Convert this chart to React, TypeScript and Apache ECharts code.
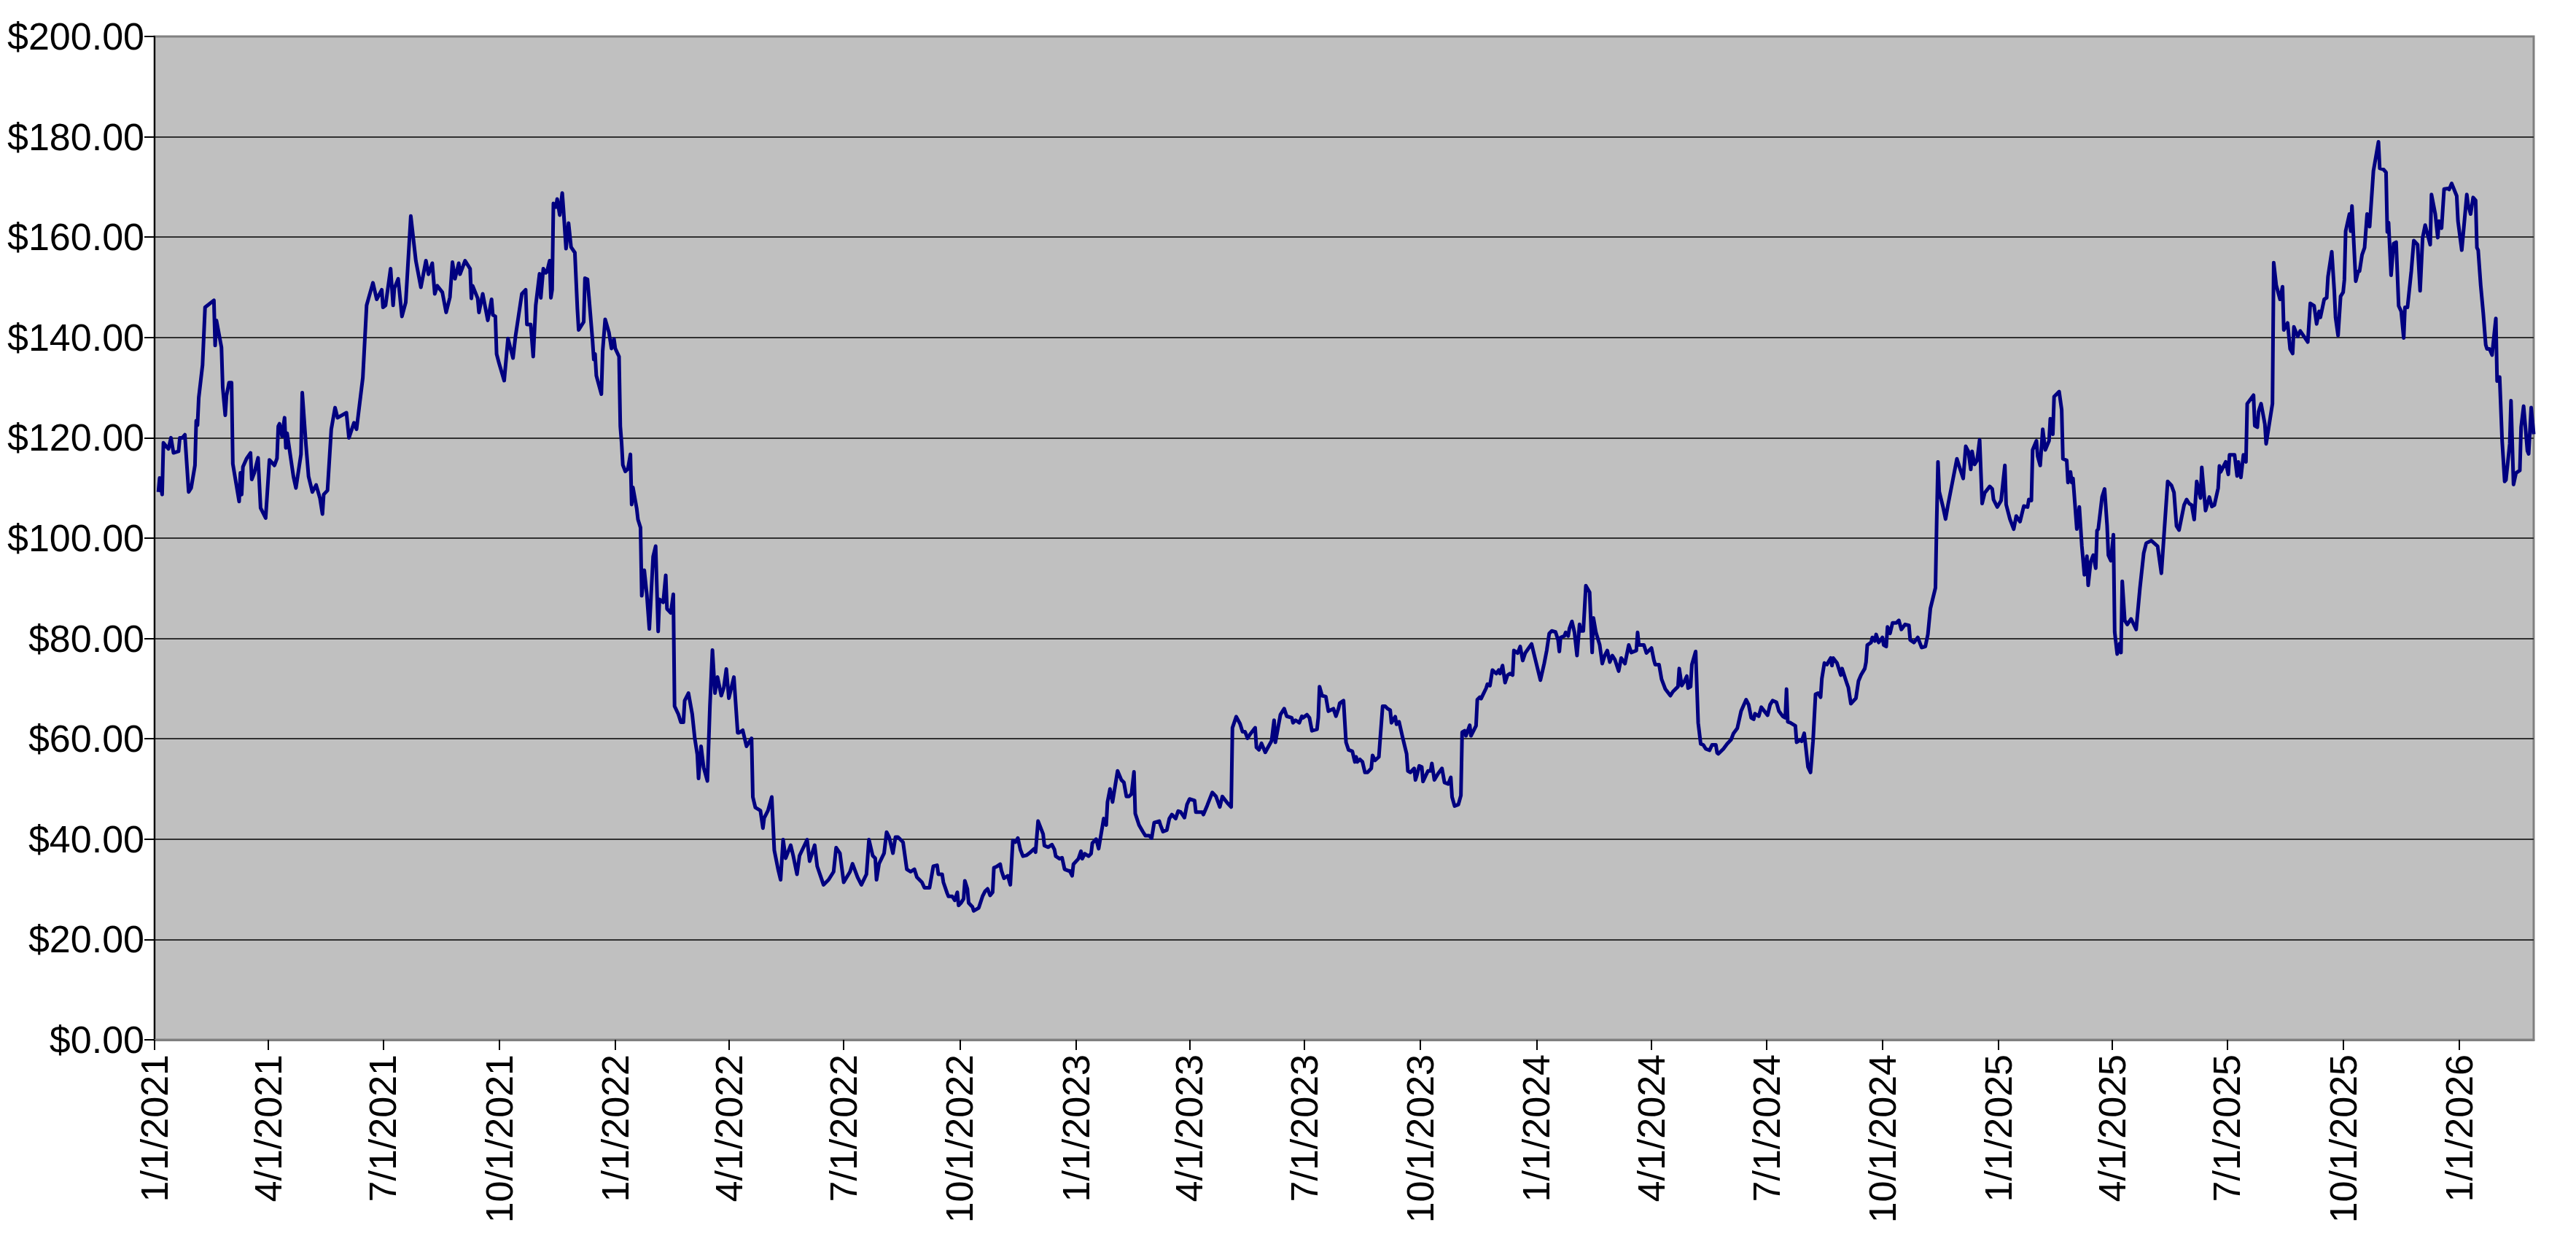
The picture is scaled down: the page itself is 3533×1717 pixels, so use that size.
import React, { useEffect, useRef } from "react";
import * as echarts from "echarts";

// Each point: [days since 1/1/2021, closing price in $]
const prices2021: [number, number][] = [
  [3,109.2],[4,112],[6,108.7],[7,119],[11,117.8],[13,120],[15,117],[19,117.3],[20,120],[22,120],[24,120.6],[27,109.2],[29,110],[32,114.5],[33,123.4],[34,122.5],[35,128],[38,134.5],[40,146],[42,146.4],[47,147.4],[48,138.4],[49,143.4],[53,138],[54,130],[56,124.5],[57,128.4],[59,131],[61,131],[62,114.8],[67,107.3],[68,113],[69,108.7],[70,114.2],[73,115.9],[76,117],[77,111.7],[79,113],[82,116],[84,106],[88,104],[91,115.6],[95,114.5],[97,115.9],[98,122.3],[99,122.8],[101,120.3],[103,124],[104,118],[105,120.9],[110,112.3],[112,110],[116,116.7],[117,129],[120,118.4],[122,112.3],[125,109.2],[128,110.6],[131,108],[133,104.8],[134,108.7],[137,109.5],[140,121.7],[143,126],[145,124],[152,125],[154,120],[158,123],[160,121.7],[165,132],[168,146.4],[173,150.9],[176,147.6],[180,149.5],[181,146],[183,146.4],[187,153.7],[189,146.4],[190,149.8],[193,151.7],[196,144.2],[199,147],[203,164.2],[207,155.3],[211,150],[215,155.3],[217,152.6],[220,154.8],[222,148.7],[224,150.3],[228,149],[231,145],[234,148],[236,155],[238,151.7],[241,154.8],[242,152.6],[246,155.3],[250,153.7],[251,147.8],[252,150.3],[256,147.8],[257,145],[260,148.7],[264,143.4],[267,147.6],[268,144.5],[270,144.2],[271,136.7],[273,134.8],[277,131.4],[280,139.8],[284,135.9],[286,140.3],[291,148.7],[294,149.5],[295,142.6],[298,142.6],[300,136.2],[302,146.4],[305,152.7],[306,147.9],[308,153.7],[310,152.9],[311,153.2],[313,155.3],[314,147.9],[315,149.5],[316,166.7],[318,166],[319,167.6],[321,164.4],[323,168.8],[324,165.4],[326,157.7],[328,162.8],[330,158],[333,156.9],[335,145.7],[336,141.5],[340,143.1],[341,151.8],[343,151.6],[347,139.4],[348,135.6],[349,136.7],[350,132.4],[354,128.7],[355,137.2],[357,143.6],[360,141],[362,137.8],[364,139.7],
];

const prices2022: [number, number][] = [
  [365,137.8],[368,136.2],[369,122.3],[370,119.1],[371,114.6],[373,113.3],[375,113.8],[377,116.7],[378,106.7],[379,110.1],[382,105.9],[383,103.7],[385,102.1],[386,88.5],[388,93.6],[390,88.8],[392,81.9],[395,96.3],[397,98.4],[399,81.4],[400,87.8],[403,87.2],[405,92.6],[406,85.9],[409,85.1],[411,88.8],[412,66.5],[415,64.9],[417,63.3],[419,63.3],[420,67.6],[423,69.1],[426,64.9],[428,60.1],[430,56.9],[431,52.1],[433,58.5],[435,54.3],[438,51.6],[440,66.5],[442,77.7],[444,69.1],[446,72.3],[449,68.6],[451,70.2],[453,73.9],[455,68.1],[459,72.3],[462,61.2],[463,61.2],[466,61.7],[469,58.5],[473,60.1],[474,48.4],[476,46.3],[480,45.7],[482,42.2],[483,44.2],[486,45.7],[489,48.4],[491,37.8],[494,34],[496,31.9],[498,39.9],[500,36.2],[504,38.8],[506,36.7],[509,33],[511,36.7],[517,39.9],[519,35.6],[523,38.8],[525,34.6],[530,30.9],[534,31.9],[538,33.5],[540,38.3],[543,37.2],[546,31.4],[551,33.5],[553,35.1],[557,32.4],[560,30.9],[564,33],[566,39.9],[569,36.7],[571,36.2],[572,31.9],[574,35.1],[578,37.2],[580,41.4],[582,40.4],[585,37.2],[587,40.4],[589,40.4],[593,39.4],[596,34],[599,33.5],[602,34],[604,32.4],[608,31.4],[610,30.3],[614,30.3],[617,34.6],[620,34.8],[621,33],[624,33],[625,31.4],[628,29.2],[629,28.6],[632,28.6],[634,27.8],[636,29.4],[637,26.8],[639,27.3],[641,28.1],[642,31.7],[644,30.1],[645,27.3],[648,26.5],[649,25.7],[653,26.3],[656,28.6],[658,29.6],[660,30.1],[662,28.8],[664,29.4],[665,34.3],[667,34.5],[670,35],[671,33.7],[673,32.2],[676,32.7],[678,30.9],[680,39.7],[682,39.4],[684,40.2],[686,37.9],[688,36.6],[691,36.8],[694,37.4],[697,38.1],[698,37.4],[700,43.6],[704,41],[705,38.7],[708,38.4],[711,38.9],[713,37.9],[714,36.6],[717,36.1],[719,36.3],[721,34],[724,33.7],[725,33.7],[727,32.7],[728,35],
];

const prices2023: [number, number][] = [
  [732,36.1],[734,37.6],[735,36.1],[737,37.1],[740,36.6],[742,37.1],[743,39.2],[746,40],[748,38.1],[752,44.1],[754,42.8],[755,47.4],[757,50],[759,47.4],[763,53.6],[766,51.8],[768,51.3],[770,48.5],[772,48.5],[774,49],[776,53.4],[777,45.1],[780,42.8],[783,41.5],[785,40.7],[788,40.7],[790,40.2],[792,43.3],[796,43.6],[797,42.8],[799,41.5],[802,41.8],[804,44.1],[806,44.9],[809,44.1],[811,45.6],[813,45.4],[816,44.3],[818,46.9],[820,48],[824,47.7],[825,45.4],[830,45.4],[831,44.9],[834,46.7],[838,49.3],[841,48.5],[844,46.4],[846,48.5],[850,47.2],[853,46.4],[854,62.2],[857,64.4],[860,63],[862,61.4],[864,61.4],[866,60.1],[868,60.9],[872,62.2],[873,58.3],[875,57.8],[877,59.1],[880,57.3],[885,59.6],[887,63.7],[888,59.3],[892,64.8],[895,66],[897,64.5],[901,64.2],[902,63.2],[904,63.7],[907,63.2],[909,64.5],[910,64.2],[913,64.8],[915,64.2],[917,61.6],[921,61.9],[922,64.2],[923,70.4],[925,68.6],[928,68.4],[930,65.5],[934,66],[936,64.5],[938,66],[939,67.1],[942,67.6],[944,59.3],[946,57.8],[949,57.5],[951,55.4],[952,56.4],[953,55.4],[955,55.9],[957,55.4],[959,53.3],[961,53.3],[964,54.1],[965,56.7],[967,55.7],[970,56.4],[971,59.8],[973,66.5],[975,66.5],[977,66],[979,65.7],[980,63.2],[983,64.4],[984,62.9],[986,63.4],[989,60.1],[992,57],[993,53.6],[995,53.3],[998,54.1],[999,51.8],[1000,52.6],[1002,54.6],[1004,54.4],[1005,51.5],[1007,52.6],[1009,53.6],[1011,53.6],[1012,55.1],[1014,51.8],[1017,53.1],[1020,54.1],[1022,51.3],[1025,51],[1027,52.3],[1028,48.4],[1030,46.6],[1033,46.9],[1035,48.7],[1036,61.3],[1038,61.6],[1039,60.6],[1042,62.7],[1043,60.6],[1047,62.6],[1048,67.8],[1050,68.3],[1051,68],[1055,70.1],[1056,70.9],[1058,70.6],[1060,73.7],[1063,73],[1065,73.7],[1066,73],[1068,74.6],[1070,71.2],[1072,72.7],[1074,73],[1076,72.7],[1077,77.6],[1080,77.1],[1082,78.4],[1084,75.6],[1086,77.1],[1091,78.9],[1094,75.8],
];

const prices2024: [number, number][] = [
  [1098,71.7],[1101,75],[1103,77.6],[1105,81],[1107,81.5],[1110,81.3],[1112,79.7],[1113,77.4],[1114,80.2],[1117,80.5],[1118,81.2],[1120,80.5],[1121,82],[1123,83.4],[1125,81.2],[1127,76.6],[1129,82.8],[1130,81.5],[1132,81.5],[1134,90.5],[1137,89.2],[1139,77.2],[1140,84.1],[1142,81.2],[1145,78.7],[1147,75],[1149,76.6],[1151,77.6],[1153,75.3],[1155,76.6],[1157,75.8],[1160,73.5],[1162,76.1],[1165,75],[1168,78.7],[1170,77.2],[1174,77.6],[1175,81.2],[1176,78.7],[1180,78.7],[1182,77.1],[1186,78.1],[1188,75.6],[1189,74.8],[1192,74.8],[1194,71.9],[1197,69.9],[1201,68.6],[1203,69.4],[1207,70.4],[1208,74],[1210,70.6],[1212,71.4],[1214,72.5],[1215,70.1],[1217,70.4],[1218,74.8],[1221,77.4],[1223,63.2],[1225,59],[1227,58.8],[1229,58],[1232,57.7],[1234,58.8],[1237,58.8],[1238,57.2],[1239,57],[1243,58],[1246,59],[1249,59.8],[1251,61.1],[1254,62.1],[1257,65.5],[1261,67.8],[1263,66.8],[1265,64.2],[1267,63.9],[1268,65],[1271,64.5],[1273,66.3],[1278,64.7],[1280,66.8],[1282,67.6],[1285,67.3],[1287,65.5],[1290,64.5],[1292,64.2],[1293,69.9],[1294,63.4],[1296,63.2],[1300,62.6],[1301,59.3],[1304,59.8],[1305,59.5],[1307,61.1],[1308,59],[1310,54.4],[1312,53.3],[1314,59.5],[1316,68.9],[1318,69.1],[1320,68.3],[1321,72],[1323,75.1],[1325,74.8],[1328,76.1],[1329,74.6],[1330,76.1],[1333,75.1],[1336,72.7],[1337,74],[1341,70.9],[1342,70.2],[1344,67],[1348,68.1],[1350,71.5],[1352,72.7],[1355,74],[1356,75.3],[1357,78.7],[1360,79.2],[1361,80.2],[1363,79.5],[1364,80.8],[1366,79.2],[1369,80.2],[1370,78.7],[1372,78.4],[1373,82.3],[1375,81],[1377,83.1],[1380,83.1],[1382,83.6],[1384,81.8],[1387,82.8],[1390,82.6],[1391,79.7],[1394,79.2],[1397,80.2],[1400,78.2],[1403,78.4],[1405,80.8],[1407,86],[1411,90.1],[1412,103.6],[1413,115.2],[1414,109.3],[1417,106.2],[1419,103.8],[1421,106.7],[1425,111.9],[1428,115.8],[1430,114.2],[1433,111.9],[1435,118.3],[1437,117.3],[1439,113.7],[1440,117.3],[1442,114.7],[1444,115.5],[1446,119.6],[1448,106.9],[1450,109],[1454,110.3],[1456,109.8],[1457,107.7],[1460,106.2],
];

const prices2025: [number, number][] = [
  [1463,107.5],[1466,114.5],[1467,106.7],[1470,103.8],[1473,101.8],[1475,104.4],[1478,103.3],[1481,106.4],[1484,106.2],[1485,107.7],[1487,107.5],[1488,117.6],[1491,119.4],[1492,116.3],[1494,114.5],[1496,121.7],[1498,117.6],[1501,119.4],[1502,123.8],[1504,120.7],[1505,128.2],[1509,129.2],[1511,125.6],[1512,115.8],[1515,115.5],[1516,111.1],[1518,113.2],[1519,111.1],[1520,111.9],[1523,101.8],[1525,106.2],[1527,98.4],[1529,92.7],[1531,96.4],[1532,90.6],[1534,95.3],[1536,96.6],[1538,94],[1539,101.5],[1540,101.8],[1543,108.2],[1545,109.8],[1547,102.5],[1548,96.6],[1550,95.5],[1552,100.7],[1553,81.3],[1555,76.9],[1557,79],[1558,77.2],[1559,91.4],[1561,83.6],[1563,82.8],[1566,83.9],[1570,81.8],[1573,90],[1576,97],[1578,99],[1582,99.5],[1587,98.4],[1590,93],[1595,111.3],[1598,110.5],[1600,109.1],[1602,102.4],[1604,101.6],[1608,106.6],[1610,107.7],[1612,106.9],[1614,106.6],[1616,103.7],[1618,111.3],[1621,108],[1622,114.1],[1625,105.5],[1628,108.2],[1630,106.3],[1632,106.6],[1635,110],[1636,114.4],[1637,113.2],[1641,115.2],[1643,112.7],[1644,116.6],[1648,116.6],[1650,112.4],[1651,115.2],[1653,112.1],[1655,116.6],[1657,115.2],[1658,126.8],[1663,128.5],[1664,122.4],[1666,122.1],[1667,125.2],[1669,126.8],[1672,122.7],[1673,118.8],[1678,126.8],[1679,154.9],[1681,150.4],[1684,147.6],[1686,150.1],[1687,141.5],[1690,142.9],[1692,137.7],[1694,136.8],[1695,142.1],[1698,140.2],[1700,141.3],[1703,140.2],[1706,139.1],[1708,146.8],[1711,146.3],[1713,142.7],[1715,145.2],[1716,144],[1719,147.6],[1721,147.9],[1722,152.1],[1725,157.1],[1727,149.3],[1728,144],[1730,140.4],[1732,148.2],[1734,149],[1735,151.5],[1736,161.2],[1739,164.6],[1740,161.2],[1741,166.2],[1744,151.2],[1746,153.2],[1747,153.2],[1749,156.5],[1751,157.9],[1753,164.6],[1755,162.1],[1758,173.2],[1759,174.6],[1762,179],[1763,173.7],[1766,173.5],[1768,172.9],[1769,161],[1770,162.9],[1772,152.4],[1774,158.7],[1776,159],[1778,146.3],[1780,145.2],[1782,139.9],[1783,146],[1785,146],[1788,153.2],[1790,159.3],[1793,158.5],[1795,149.3],[1797,159.9],[1799,162.4],[1803,158.5],[1804,168.5],[1807,164.6],[1809,159.9],[1810,163.2],[1812,161.8],[1814,169.6],[1817,169.7],[1818,169.5],[1820,170.7],[1824,168.2],[1825,163.2],
];

const prices2026: [number, number][] = [
  [1828,157.4],[1832,168.5],[1833,166.5],[1835,164.6],[1837,167.9],[1839,167.3],[1840,157.9],[1841,157.4],[1843,150.4],[1845,144.9],[1847,138.5],[1848,137.7],[1850,137.7],[1852,136.5],[1853,139],[1855,143.8],[1856,131.3],[1858,132.1],[1860,119.3],[1862,111.3],[1863,111.6],[1866,118.8],[1867,127.4],[1869,110.7],[1871,113],[1874,113.5],[1875,122.1],[1877,126.3],[1880,117.4],[1881,116.8],[1883,126],[1885,120.7],
];

// Quarterly tick dates [year, monthIndex]
const tickQuarters: [number, number][] = [
  [2021,0],[2021,3],[2021,6],[2021,9],
  [2022,0],[2022,3],[2022,6],[2022,9],
  [2023,0],[2023,3],[2023,6],[2023,9],
  [2024,0],[2024,3],[2024,6],[2024,9],
  [2025,0],[2025,3],[2025,6],[2025,9],
  [2026,0],
];

const yMin = 0;
const yMax = 200;
const yStep = 20;
const lastDay = 1885;

const DAY = 86400000;
const START_UTC = Date.UTC(2021, 0, 1);

function dayOf(y: number, m: number): number {
  return Math.round((Date.UTC(y, m, 1) - START_UTC) / DAY);
}

function labelOf(day: number): string {
  const dt = new Date(START_UTC + day * DAY);
  return `${dt.getUTCMonth() + 1}/${dt.getUTCDate()}/${dt.getUTCFullYear()}`;
}

export default function App() {
  const ref = useRef<HTMLDivElement>(null);

  useEffect(() => {
    document.body.style.margin = "0";
    if (!ref.current) return;
    const chart = echarts.init(ref.current, undefined, { renderer: "svg" });
    const data = [
      ...prices2021, ...prices2022, ...prices2023,
      ...prices2024, ...prices2025, ...prices2026,
    ];
    const ticks = tickQuarters.map(([y, m]) => dayOf(y, m));
    const nLines = (yMax - yMin) / yStep + 1;
    const gridColors = Array.from({ length: nLines }, (_, i) =>
      i === 0 || i === nLines - 1 ? "#808080" : "#303030"
    );
    const font = "'Liberation Sans', Arial, sans-serif";

    chart.setOption({
      animation: false,
      backgroundColor: "#ffffff",
      grid: {
        left: 212,
        right: 58,
        top: 50,
        bottom: 291,
        show: true,
        backgroundColor: "#C0C0C0",
        borderColor: "#808080",
        borderWidth: 3,
      },
      xAxis: {
        type: "value",
        min: 0,
        max: lastDay,
        splitLine: { show: false },
        axisLine: { show: true, onZero: false, lineStyle: { color: "#808080", width: 3 } },
        axisTick: {
          show: true,
          length: 14,
          customValues: ticks,
          lineStyle: { color: "#000", width: 2 },
        },
        axisLabel: {
          customValues: ticks,
          rotate: 90,
          margin: 20,
          fontSize: 52,
          color: "#000",
          fontFamily: font,
          formatter: (val: number) => labelOf(val),
        },
      },
      yAxis: {
        type: "value",
        min: yMin,
        max: yMax,
        interval: yStep,
        axisLine: { show: true, lineStyle: { color: "#000", width: 2 } },
        axisTick: { show: true, length: 14, lineStyle: { color: "#000", width: 2 } },
        splitLine: { show: true, lineStyle: { color: gridColors, width: 2 } },
        axisLabel: {
          margin: 14,
          fontSize: 52,
          color: "#000",
          fontFamily: font,
          formatter: (v: number) => "$" + v.toFixed(2),
        },
      },
      series: [
        {
          type: "line",
          data,
          showSymbol: false,
          symbol: "none",
          lineStyle: { color: "#000080", width: 5, join: "round" },
          itemStyle: { color: "#000080" },
          clip: true,
        },
      ],
    });
    return () => chart.dispose();
  }, []);

  return (
    <div
      ref={ref}
      style={{ position: "fixed", left: 0, top: 0, width: "3533px", height: "1717px" }}
    />
  );
}
